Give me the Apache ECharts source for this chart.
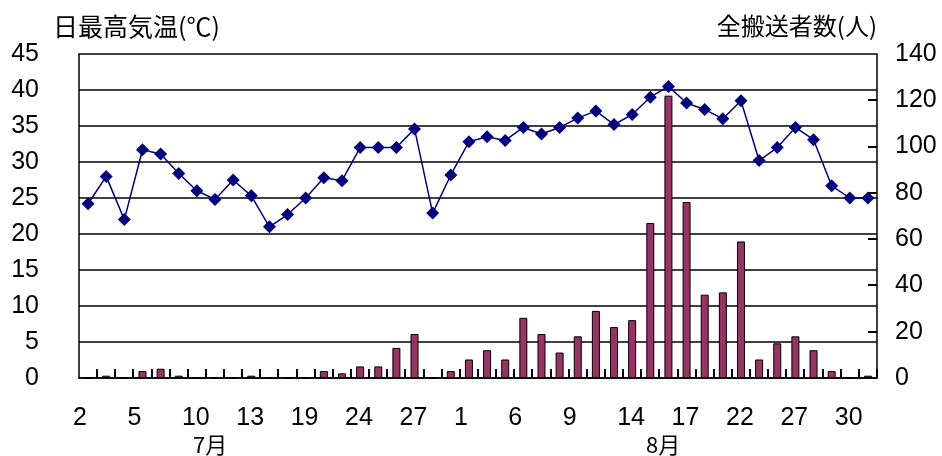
<!DOCTYPE html>
<html>
<head>
<meta charset="utf-8">
<script src="https://cdn.jsdelivr.net/npm/echarts@6/dist/echarts.min.js"></script>
<style>
  html, body { margin: 0; padding: 0; background: #fff; }
  #chart { width: 942px; height: 456px; }
</style>
</head>
<body>
<div id="chart"></div>
<script>
// Weekday dates, July and August
const dates = [
  '2','3','4','5','6','9','10','11','12','13','17','18','19','20','23','24','25','26','27','30','31',
  '1','2','3','6','7','8','9','10','13','14','15','16','17','20','21','22','23','24','27','28','29','30','31'
];

// Daily maximum temperature (°C)
const maxTemp = [
  24.2, 28.0, 22.0, 31.7, 31.1, 28.4, 26.0, 24.8, 27.5, 25.3, 21.0, 22.7, 25.0, 27.8, 27.4,
  32.0, 32.0, 32.0, 34.6, 22.9, 28.2, 32.8, 33.5, 33.0, 34.8, 33.9, 34.8, 36.1, 37.1,
  35.2, 36.6, 39.0, 40.5, 38.2, 37.3, 36.0, 38.5, 30.2, 32.0, 34.8, 33.1, 26.7, 25.0, 25.0
];

// Total people transported by ambulance
const transported = [
  0, 1, 0, 3, 4, 1, 0, 0, 0, 1, 0, 0, 0, 3, 2, 5, 5, 13, 19, 0, 3,
  8, 12, 8, 26, 19, 11, 18, 29, 22, 25, 67, 122, 76, 36, 37, 59, 8, 15, 18, 12, 3, 0, 1
];

const tempTicks = { min: 0, max: 45, interval: 5 };
const countTicks = { min: 0, max: 140, interval: 20 };
const countTickValues = [20, 40, 60, 80, 100, 120];

const numFont = 'Liberation Sans';
const cjkFont = 'Noto Sans CJK JP';
const TICK_LEN = 9;
const TICK_STYLE = { stroke: '#000', lineWidth: 2 };

const chart = echarts.init(document.getElementById('chart'), null, { renderer: 'canvas' });

// Upward tick at the right edge of each day's band along the date axis
function renderDayTick(params, api) {
  const base = api.coord([api.value(0), 0]);
  const band = api.size([1, 0])[0];
  const x = Math.round(base[0] + band / 2);
  return {
    type: 'line',
    shape: { x1: x, y1: base[1], x2: x, y2: base[1] - TICK_LEN },
    style: TICK_STYLE
  };
}

// Inward tick on the right-hand count axis
function renderCountTick(params, api) {
  const p = api.coord([api.value(0), api.value(1)]);
  const band = api.size([1, 0])[0];
  const x = p[0] + band / 2;
  const y = Math.round(p[1]);
  return {
    type: 'line',
    shape: { x1: x, y1: y, x2: x - TICK_LEN, y2: y },
    style: TICK_STYLE
  };
}

chart.setOption({
  animation: false,
  backgroundColor: '#ffffff',
  grid: { left: 79, right: 65, top: 54, bottom: 78, containLabel: false },
  xAxis: {
    type: 'category',
    data: dates,
    boundaryGap: true,
    axisLine: { show: true, lineStyle: { color: '#000', width: 1.5 } },
    axisTick: { show: false },
    axisLabel: {
      interval: 2,
      margin: 28,
      formatter: v => '{d|' + v + '}',
      rich: {
        d: { width: 30, align: 'left', fontFamily: numFont, fontSize: 25, color: '#000' }
      }
    },
    splitLine: { show: false }
  },
  yAxis: [
    {
      type: 'value',
      min: tempTicks.min, max: tempTicks.max, interval: tempTicks.interval,
      axisLine: { show: true, lineStyle: { color: '#000', width: 1.5 } },
      axisTick: { show: false },
      axisLabel: {
        margin: 40, fontFamily: numFont, fontSize: 25, color: '#000',
        padding: [11, 0, 0, 0]
      },
      splitLine: { show: true, lineStyle: { color: '#000', width: 1.5 } }
    },
    {
      type: 'value',
      position: 'right',
      min: countTicks.min, max: countTicks.max, interval: countTicks.interval,
      axisLine: { show: true, lineStyle: { color: '#000', width: 1.5 } },
      axisTick: { show: false },
      axisLabel: {
        margin: 18, fontFamily: numFont, fontSize: 25, color: '#000',
        padding: [3, 0, 0, 0]
      },
      splitLine: { show: false }
    }
  ],
  series: [
    {
      name: '全搬送者数',
      type: 'bar',
      yAxisIndex: 1,
      data: transported,
      barWidth: 8,
      itemStyle: { color: '#993366', borderColor: '#000', borderWidth: 1 },
      z: 2
    },
    {
      name: '日最高気温',
      type: 'line',
      yAxisIndex: 0,
      data: maxTemp,
      symbol: 'diamond',
      symbolSize: [13, 13],
      showSymbol: true,
      showAllSymbol: true,
      lineStyle: { color: '#000080', width: 1.5 },
      itemStyle: { color: '#000080' },
      z: 3
    },
    {
      type: 'custom',
      xAxisIndex: 0,
      yAxisIndex: 1,
      data: dates.map((d, i) => [i, 0]),
      renderItem: renderDayTick,
      clip: false,
      z: 10
    },
    {
      type: 'custom',
      xAxisIndex: 0,
      yAxisIndex: 1,
      data: countTickValues.map(v => [dates.length - 1, v]),
      renderItem: renderCountTick,
      clip: false,
      z: 10
    }
  ],
  graphic: [
    {
      type: 'text', left: 53, top: 14,
      style: { text: '日最高気温(℃)', fontFamily: cjkFont, fontSize: 25, fill: '#000' }
    },
    {
      type: 'text', right: 65, top: 14,
      style: { text: '全搬送者数(人)', fontFamily: cjkFont, fontSize: 24, fill: '#000' }
    },
    {
      type: 'text', left: 193, top: 434,
      style: { text: '7月', fontFamily: cjkFont, fontSize: 22, fill: '#000' }
    },
    {
      type: 'text', left: 646, top: 434,
      style: { text: '8月', fontFamily: cjkFont, fontSize: 22, fill: '#000' }
    }
  ]
});
</script>
</body>
</html>
